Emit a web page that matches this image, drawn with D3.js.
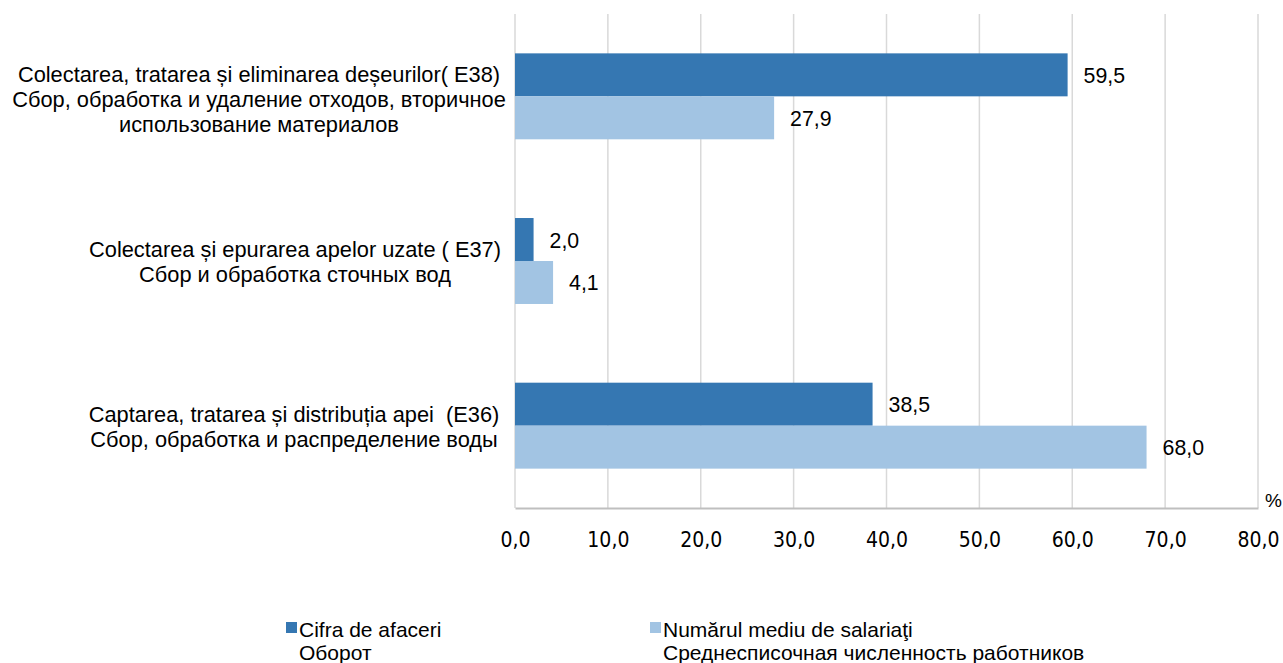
<!DOCTYPE html>
<html><head><meta charset="utf-8">
<script src="https://cdn.jsdelivr.net/npm/d3@7"></script>
<style>body{margin:0;background:#fff}svg{display:block}text{white-space:pre}</style>
</head><body>
<svg id="c" width="1283" height="663"></svg>
<script>
const categories = [
  ["Colectarea, tratarea și eliminarea deșeurilor( E38)", "Сбор, обработка и удаление отходов, вторичное", "использование материалов"],
  ["Colectarea și epurarea apelor uzate ( E37)", "Сбор и обработка сточных вод"],
  ["Captarea, tratarea și distribuția apei  (E36)", "Сбор, обработка и распределение воды"]
];
const catKeys = ["E38", "E37", "E36"];
const seriesNames = [["Cifra de afaceri", "Оборот"], ["Numărul mediu de salariaţi", "Среднесписочная численность работников"]];
const turnover = [59.5, 2.0, 38.5];
const employees = [27.9, 4.1, 68.0];
const xTicks = [0, 10, 20, 30, 40, 50, 60, 70, 80];
const colors = ["#3577b2", "#a2c4e3"];

const svg = d3.select("#c");
const x = d3.scaleLinear().domain([0, 80]).range([515, 1258]);
const y = d3.scaleBand().domain(catKeys).range([14, 508]).paddingInner(0.478).paddingOuter(0.239);
const sub = d3.scaleBand().domain([0, 1]).range([0, y.bandwidth()]);
const fmt = v => v.toFixed(1).replace(".", ",");
const sans = "'Liberation Sans',Arial,sans-serif";
const narrow = "'DejaVu Sans Condensed','Liberation Sans Narrow',sans-serif";

// gridlines
svg.append("g").selectAll("line").data(xTicks).join("line")
  .attr("x1", d => x(d)).attr("x2", d => x(d)).attr("y1", 14).attr("y2", 508)
  .attr("stroke", "#d9d9d9").attr("stroke-width", 1.5);

// axis
const axis = svg.append("g").attr("transform", "translate(0,508)")
  .call(d3.axisBottom(x).tickValues(xTicks).tickSize(0).tickFormat(fmt));
axis.select(".domain").attr("stroke", "#bfbfbf").attr("stroke-width", 2);
axis.selectAll("text").attr("dy", 0).attr("y", 39)
  .attr("font-family", narrow).attr("font-size", 21).attr("fill", "#000");

svg.append("text").attr("x", 1265).attr("y", 507).text("%")
  .attr("font-family", sans).attr("font-size", 19);

// bars
const series = [turnover, employees];
series.forEach((vals, si) => {
  const g = svg.append("g");
  g.selectAll("rect").data(catKeys).join("rect")
    .attr("x", x(0)).attr("y", d => y(d) + sub(si))
    .attr("width", (d, i) => x(vals[i]) - x(0)).attr("height", sub.bandwidth())
    .attr("fill", colors[si]);
  g.selectAll("text").data(catKeys).join("text")
    .attr("x", (d, i) => x(vals[i]) + 16)
    .attr("y", d => y(d) + sub(si) + sub.bandwidth() / 2 + 8)
    .text((d, i) => fmt(vals[i]))
    .attr("font-family", sans).attr("font-size", 21.3).attr("fill", "#000");
});

// category labels
const labelX = [259, 295, 294];
const firstBaseline = [82, 257, 422];
catKeys.forEach((k, i) => {
  const t = svg.append("text").attr("text-anchor", "middle")
    .attr("font-family", sans).attr("font-size", 21.8).attr("fill", "#000");
  categories[i].forEach((l, j) => t.append("tspan").attr("x", labelX[i]).attr("y", firstBaseline[i] + j * 24.8).text(l));
});

// legend
const legX = [286, 650];
seriesNames.forEach((n, i) => {
  svg.append("rect").attr("x", legX[i]).attr("y", 622).attr("width", 11).attr("height", 11).attr("fill", colors[i]);
  const t = svg.append("text").attr("font-family", sans).attr("font-size", 21).attr("fill", "#000");
  n.forEach((l, j) => t.append("tspan").attr("x", legX[i] + 13).attr("y", 637 + j * 22.5).text(l));
});
</script>
</body></html>
